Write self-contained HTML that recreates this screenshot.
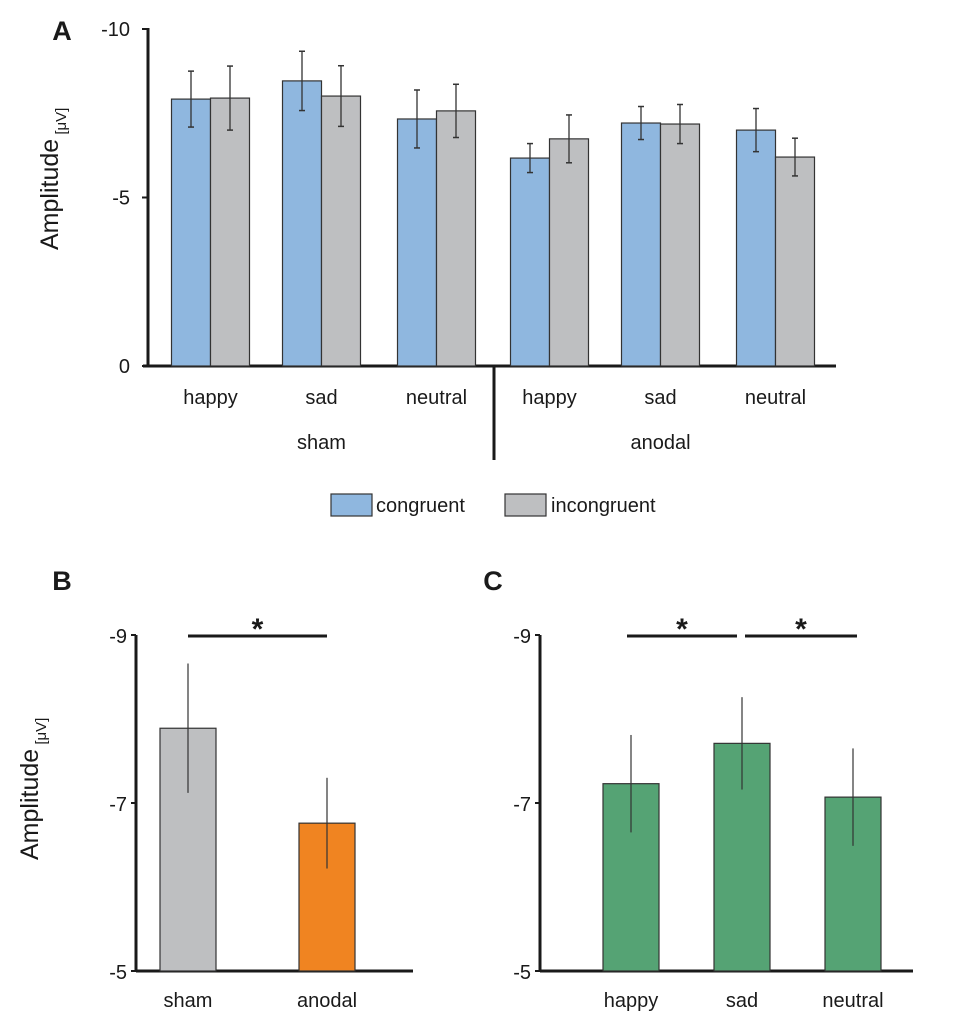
<!DOCTYPE html>
<html><head><meta charset="utf-8"><style>
body{margin:0;background:#fff;}
svg{display:block;font-family:"Liberation Sans",Arial,sans-serif;}
</style></head><body>
<svg id="chart" width="957" height="1036" viewBox="0 0 957 1036"></svg>
<script>
// Panel A data
const aCategories = ["happy","sad","neutral","happy","sad","neutral"];
const aGroups = ["sham","anodal"];
const aCongruent = [7.92, 8.46, 7.33, 6.17, 7.21, 7.00];
const aCongruentErr = [0.83, 0.88, 0.86, 0.43, 0.49, 0.64];
const aIncongruent = [7.95, 8.01, 7.57, 6.74, 7.18, 6.20];
const aIncongruentErr = [0.95, 0.90, 0.79, 0.71, 0.58, 0.56];
const aTicks = [-10, -5, 0];
// Panel B data
const bCategories = ["sham","anodal"];
const bValues = [7.89, 6.76];
const bErr = [0.77, 0.54];
const bTicks = [-9, -7, -5];
// Panel C data
const cCategories = ["happy","sad","neutral"];
const cValues = [7.23, 7.71, 7.07];
const cErr = [0.58, 0.55, 0.58];
const cTicks = [-9, -7, -5];

const svg = document.getElementById('chart');
const NS = "http://www.w3.org/2000/svg";
function el(tag, attrs, parent){const e=document.createElementNS(NS,tag);for(const k in attrs)e.setAttribute(k,attrs[k]);(parent||svg).appendChild(e);return e;}
function txt(x,y,s,size,anchor,weight,parent){const t=el('text',{x:x,y:y,'font-size':size,'text-anchor':anchor||'middle','font-weight':weight||'normal',fill:'#1a1a1a'},parent);t.textContent=s;return t;}
function errbar(g,cx,yTop,yBot){
  el('line',{x1:cx,x2:cx,y1:yTop,y2:yBot,stroke:'#333','stroke-width':1.3},g);
  el('line',{x1:cx-3,x2:cx+3,y1:yTop,y2:yTop,stroke:'#333','stroke-width':1.5},g);
  el('line',{x1:cx-3,x2:cx+3,y1:yBot,y2:yBot,stroke:'#333','stroke-width':1.5},g);
}

// ===== Panel A =====
const aY = v => 366 - v*33.7;
const aGroupX = [210.5, 321.5, 436.5, 549.5, 660.5, 775.5];
let t = txt(62,40,"A",27,'middle','bold');  
const aAxis = el('g',{});  
el('line',{x1:148,x2:148,y1:28,y2:367,stroke:'#1a1a1a','stroke-width':3},aAxis);
aTicks.forEach(v=>{const y=aY(-v);el('line',{x1:142,x2:148,y1:y,y2:y,stroke:'#1a1a1a','stroke-width':2},aAxis);
  const lt=txt(130,y+7,String(v),20,'end','normal',aAxis);});
const aX = el('line',{x1:143,x2:836,y1:366,y2:366,stroke:'#1a1a1a','stroke-width':3});
 
const sep = el('line',{x1:494,x2:494,y1:366,y2:460,stroke:'#1a1a1a','stroke-width':3});
 
const ayt = el('text',{transform:'translate(58,250) rotate(-90)','font-size':25,fill:'#1a1a1a'});
 
ayt.innerHTML='Amplitude<tspan font-size="15" dy="8"> [μV]</tspan>';
aCategories.forEach((c,i)=>{
  const cx=aGroupX[i];
  const g1=el('g',{});  
  el('rect',{x:cx-39,y:aY(aCongruent[i]),width:39,height:aY(0)-aY(aCongruent[i]),fill:'#8fb7df',stroke:'#333','stroke-width':1.2},g1);
  const g2=el('g',{});  
  el('rect',{x:cx,y:aY(aIncongruent[i]),width:39,height:aY(0)-aY(aIncongruent[i]),fill:'#bebfc1',stroke:'#333','stroke-width':1.2},g2);
  errbar(g1,cx-19.5,aY(aCongruent[i]+aCongruentErr[i]),aY(aCongruent[i]-aCongruentErr[i]));
  errbar(g2,cx+19.5,aY(aIncongruent[i]+aIncongruentErr[i]),aY(aIncongruent[i]-aIncongruentErr[i]));
  const l=txt(cx,404,c,20);  
});
aGroups.forEach((gname,j)=>{const cx=aGroupX[j*3+1];const l=txt(cx,449,gname,20);});
// legend
const leg=el('g',{});  
const le1=el('g',{},leg);  
el('rect',{x:331,y:494,width:41,height:22,fill:'#8fb7df',stroke:'#333','stroke-width':1.2},le1);
txt(376,512,'congruent',20,'start','normal',le1);
const le2=el('g',{},leg);  
el('rect',{x:505,y:494,width:41,height:22,fill:'#bebfc1',stroke:'#333','stroke-width':1.2},le2);
txt(551,512,'incongruent',20,'start','normal',le2);

// ===== Panels B, C =====
const sY = v => 971 - (v-5)*84;
function panel(name,label,labelX,axisX,axisEnd,cats,vals,errs,ticks,barX,color){
  const lb=txt(labelX,590,label,27,'middle','bold');  
  const ax=el('g',{});  
  el('line',{x1:axisX,x2:axisX,y1:635,y2:972,stroke:'#1a1a1a','stroke-width':3},ax);
  ticks.forEach(v=>{const y=sY(-v);el('line',{x1:axisX-5,x2:axisX,y1:y,y2:y,stroke:'#1a1a1a','stroke-width':2},ax);
    const lt=txt(axisX-9,y+8,String(v),20,'end','normal',ax);});
  const xl=el('line',{x1:axisX,x2:axisEnd,y1:971,y2:971,stroke:'#1a1a1a','stroke-width':3});
   
  cats.forEach((c,i)=>{
    const cx=barX[i];
    const g=el('g',{});  
    el('rect',{x:cx-28,y:sY(vals[i]),width:56,height:sY(5)-sY(vals[i]),fill:color[i],stroke:'#333','stroke-width':1.2},g);
    el('line',{x1:cx,x2:cx,y1:sY(vals[i]+errs[i]),y2:sY(vals[i]-errs[i]),stroke:'#333','stroke-width':1.2},g);
    const l=txt(cx,1007,c,20);  
  });
}
panel('b','B',62,136,413,bCategories,bValues,bErr,bTicks,[188,327],['#bebfc1','#f08421']);
panel('c','C',493,540,913,cCategories,cValues,cErr,cTicks,[631,742,853],['#55a374','#55a374','#55a374']);
const byt = el('text',{transform:'translate(38,860) rotate(-90)','font-size':25,fill:'#1a1a1a'});
 
byt.innerHTML='Amplitude<tspan font-size="15" dy="8"> [μV]</tspan>';
// significance markers
function sig(name,x1,x2){
  const g=el('g',{});  
  el('line',{x1:x1,x2:x2,y1:636,y2:636,stroke:'#1a1a1a','stroke-width':3},g);
  txt((x1+x2)/2,639,'*',30,'middle','bold',g);
}
sig('significance-sham-anodal',188,327);
sig('significance-happy-sad',627,737);
sig('significance-sad-neutral',745,857);
</script>
</body></html>
